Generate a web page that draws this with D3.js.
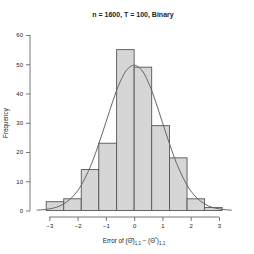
<!DOCTYPE html>
<html lang="en">
<head>
<meta charset="UTF-8"/>
<title>Histogram</title>
<script src="https://d3js.org/d3.v7.min.js"></script>
<style>
	body { margin: 0; background: #fff; }
	text { font-family: "Liberation Sans", Arial, sans-serif; fill: #222; }
</style>
</head>
<body>
<script>
	var w = 254;
	var h = 254;

	// histogram bins (edges) and counts
	var binEdges = [-3.11, -2.49, -1.87, -1.25, -0.62, 0, 0.62, 1.25, 1.87, 2.49, 3.11];
	var counts = [3, 4, 14, 23, 55, 49, 29, 18, 4, 1];

	// fitted density curve, sampled by eye
	var curveX = [-3.45, -3.25, -3, -2.75, -2.5, -2.25, -2, -1.75, -1.5, -1.25, -1, -0.75, -0.5, -0.25, 0,
	              0.25, 0.5, 0.75, 1, 1.25, 1.5, 1.75, 2, 2.25, 2.5, 2.75, 3, 3.25, 3.45];
	var curveY = [0.1, 0.25, 0.55, 1.1, 2.2, 4.0, 6.7, 10.8, 16.1, 22.8, 30.1, 37.5, 43.9, 48.2, 49.7,
	              48.2, 43.9, 37.5, 30.1, 22.8, 16.1, 10.8, 6.7, 4.0, 2.2, 1.1, 0.55, 0.25, 0.1];

	var xTicks = [-3, -2, -1, 0, 1, 2, 3];
	var yTicks = [0, 10, 20, 30, 40, 50, 60];

	var xScale = d3.scaleLinear().domain([-3, 3]).range([49.3, 219]);
	var yScale = d3.scaleLinear().domain([0, 60]).range([210.5, 35]);

	var svg = d3.select("body")
				.append("svg")
				.attr("width", w)
				.attr("height", h);

	// bars
	svg.selectAll("rect.bar")
		.data(counts)
		.enter()
		.append("rect")
		.attr("class", "bar")
		.attr("x", function(d, i) { return xScale(binEdges[i]); })
		.attr("width", function(d, i) { return xScale(binEdges[i+1]) - xScale(binEdges[i]); })
		.attr("y", function(d) { return yScale(d); })
		.attr("height", function(d) { return yScale(0) - yScale(d); })
		.attr("fill", "#d6d6d6")
		.attr("stroke", "#555")
		.attr("stroke-width", 0.9);

	// density curve
	var line = d3.line()
		.x(function(d, i) { return xScale(curveX[i]); })
		.y(function(d) { return yScale(d); })
		.curve(d3.curveCatmullRom);

	svg.append("path")
		.attr("d", line(curveY))
		.attr("fill", "none")
		.attr("stroke", "#666")
		.attr("stroke-width", 1);

	// x axis
	var xAxis = d3.axisBottom(xScale)
		.tickValues(xTicks)
		.tickSize(4)
		.tickPadding(3)
		.tickFormat(function(d) { return d < 0 ? "\u2212" + Math.abs(d) : d; });

	var gx = svg.append("g")
		.attr("transform", "translate(0,217)")
		.call(xAxis);

	// y axis
	var yAxis = d3.axisLeft(yScale)
		.tickValues(yTicks)
		.tickSize(4)
		.tickPadding(3);

	var gy = svg.append("g")
		.attr("transform", "translate(30,0)")
		.call(yAxis);

	[gx, gy].forEach(function(g) {
		g.selectAll("path, line").attr("stroke", "#555").attr("stroke-width", 0.8);
		g.select(".domain").attr("d", g === gx
			? "M" + xScale(-3) + ",0H" + xScale(3)
			: "M0," + yScale(0) + "V" + yScale(60));
		g.selectAll("text").attr("font-size", 6).attr("font-family", "Liberation Sans, Arial, sans-serif").attr("fill", "#222");
	});

	// title
	svg.append("text")
		.attr("x", 133)
		.attr("y", 17)
		.attr("text-anchor", "middle")
		.attr("font-size", 7)
		.attr("font-weight", "bold")
		.text("n = 1600, T = 100, Binary");

	// y label
	svg.append("text")
		.attr("transform", "translate(8,123) rotate(-90)")
		.attr("text-anchor", "middle")
		.attr("font-size", 6.3)
		.text("Frequency");

	// x label
	var xl = svg.append("text")
		.attr("x", 134)
		.attr("y", 243)
		.attr("text-anchor", "middle")
		.attr("font-size", 6.3);
	xl.append("tspan").text("Error of (\u0398\u0302)");
	xl.append("tspan").attr("font-size", 4.5).attr("dy", 1.5).text("1,1");
	xl.append("tspan").attr("dy", -1.5).text(" \u2212 (\u0398");
	xl.append("tspan").attr("font-size", 4.5).attr("dy", -2).text("*");
	xl.append("tspan").attr("dy", 2).text(")");
	xl.append("tspan").attr("font-size", 4.5).attr("dy", 1.5).text("1,1");
</script>
</body>
</html>
